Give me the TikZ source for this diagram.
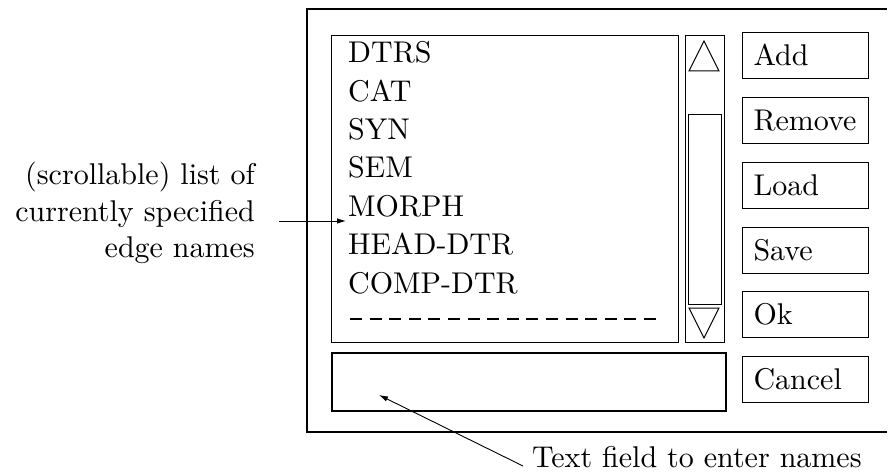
\documentclass[tikz,border=0pt]{standalone}
\usepackage{fontspec}
\newfontfamily\lmten[Extension=.otf]{lmroman10-regular}
\usetikzlibrary{arrows.meta}
\begin{document}
\begin{tikzpicture}[x=1pt,y=-1pt,
  every node/.style={font=\lmten\fontsize{30}{36}\selectfont, inner sep=0pt},
  box/.style={draw, line width=1pt, anchor=north west},
  btn/.style={draw, line width=1.1pt, anchor=north west, minimum width=126pt, minimum height=46pt,
     text width=104pt, align=left, inner xsep=11pt, text height=20.5pt, text depth=0pt},
  item/.style={anchor=base west},
  lbl/.style={anchor=base east},
  pointer/.style={line width=0.9pt, -{Latex[length=9pt,width=5.5pt]}}]
\useasboundingbox (0,0) rectangle (895,476);
% outer dialog frame (open on the right)
\draw[line width=1.2pt] (887,9) -- (307,9) -- (307,432) -- (887,432);
% list box
\node[box, minimum width=347pt, minimum height=307pt] (list) at (331,35) {};
% scrollbar
\node[box, minimum width=39pt, minimum height=307pt] (scroll) at (685,35) {};
\node[box, minimum width=33pt, minimum height=190pt] (slider) at (688,114) {};
\draw[line width=1pt] (689,71) -- (719,71) -- (704,41) -- cycle;
\draw[line width=1pt] (689,308) -- (719,308) -- (704,338) -- cycle;
% text field
\node[box, line width=1.8pt, minimum width=394pt, minimum height=58pt] (field) at (331,352) {};
% list entries
\node[item] (i1) at (348,63) {DTRS};
\node[item] (i2) at (348,101.3) {CAT};
\node[item] (i3) at (348,139.6) {SYN};
\node[item] (i4) at (348,178) {SEM};
\node[item] (i5) at (348,216.3) {MORPH};
\node[item] (i6) at (348,254.6) {HEAD-DTR};
\node[item] (i7) at (348,293) {COMP-DTR};
\draw[line width=1.1pt, dash pattern=on 12pt off 7.6pt] (350,319) -- (663,319);
% buttons
\node[btn] (add) at (742,32) {Add};
\node[btn] (remove) at (742,97) {Remove};
\node[btn] (load) at (742,162) {Load};
\node[btn] (save) at (742,227) {Save};
\node[btn] (ok) at (742,291) {Ok};
\node[btn] (cancel) at (742,356) {Cancel};
% annotations
\node[lbl] (l1) at (255,185) {(scrollable) list of};
\node[lbl] (l2) at (255,222) {currently specified};
\node[lbl] (l3) at (255,257) {edge names};
\node[anchor=base west] (l4) at (532,467) {Text field to enter names};
\coordinate (a1s) at (279,221);
\coordinate (a1e) at (346,221);
\coordinate (a2s) at (523,466);
\coordinate (a2e) at (379,395);
\draw[pointer] (a1s) -- (a1e);
\draw[pointer] (a2s) -- (a2e);
\end{tikzpicture}
\end{document}
